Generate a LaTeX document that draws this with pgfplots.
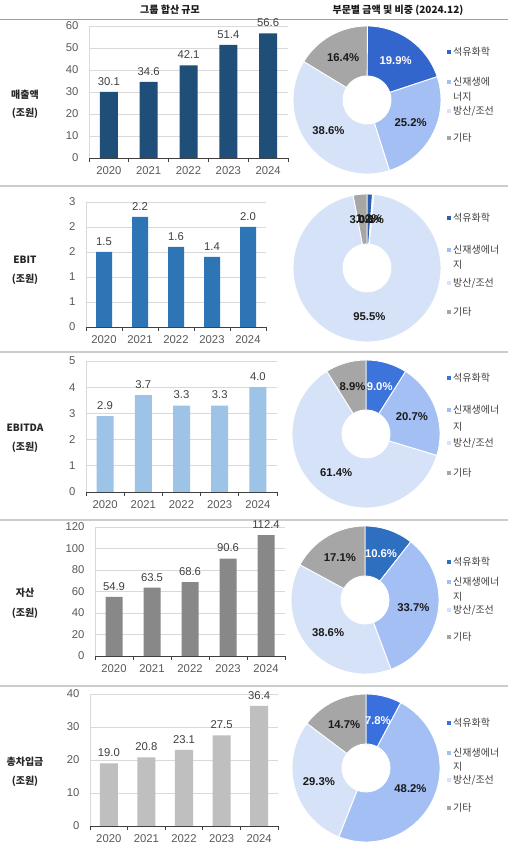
\documentclass[border=0pt]{standalone}
\usepackage{fontspec}
\setmainfont{Liberation Sans}
\newfontfamily\kr{Noto Sans CJK KR}
\usepackage{pgfplots}
\pgfplotsset{compat=1.18}
\definecolor{gridgray}{HTML}{D9D9D9}
\definecolor{txtgray}{HTML}{404040}
\definecolor{tickgray}{HTML}{595959}
\definecolor{barA}{HTML}{1F4E79}
\definecolor{barB}{HTML}{2E75B6}
\definecolor{barC}{HTML}{9DC3E6}
\definecolor{barD}{HTML}{888888}
\definecolor{barE}{HTML}{BFBFBF}
\definecolor{pA1}{HTML}{3366CC}
\definecolor{pA2}{HTML}{2F5FB0}
\definecolor{pA3}{HTML}{3D74DB}
\definecolor{pA4}{HTML}{2E6FBF}
\definecolor{pA5}{HTML}{3A70DE}
\definecolor{pB}{HTML}{A3BFF4}
\definecolor{pC}{HTML}{D6E2F7}
\definecolor{pD}{HTML}{A6A6A6}
\definecolor{pT}{HTML}{1A1A1A}
\newcommand{\numfont}{\fontsize{11.3bp}{13bp}\selectfont}
\newcommand{\krfont}{\kr\fontsize{10bp}{12bp}\selectfont}
\pgfplotsset{
  /pgf/number format/assume math mode=true,
  barax/.style={
    scale only axis, ybar, bar width=17bp, ymin=0,
    xmin=-0.5, xmax=4.5,
    xtick={0,1,2,3,4}, xticklabels={2020,2021,2022,2023,2024},
    minor xtick={-0.5,0.5,1.5,2.5,3.5,4.5},
    major tick length=0pt, minor tick length=4bp, tick align=outside,
    minor x tick style={draw=black!75, line width=0.8bp},
    ymajorgrids, grid style={draw=gridgray, line width=0.7bp},
    axis x line*=bottom, axis y line*=left,
    x axis line style={draw=black!75, line width=0.9bp},
    y axis line style={draw=gridgray, line width=0.7bp},
    tick label style={font=\numfont, text=tickgray},
    xticklabel style={yshift=-5bp},
    yticklabel style={xshift=-7bp},
    nodes near coords={\pgfmathprintnumber[fixed,fixed zerofill,precision=1]{\pgfplotspointmeta}},
    every node near coord/.append style={font=\numfont, text=txtgray, yshift=3bp},
    clip=false,
  }
}
\newcommand{\donut}[3]{%
\begin{axis}[at={(#1bp,#2bp)}, anchor=center, scale only axis, width=148bp, height=148bp,
  hide axis, xmin=-1, xmax=1, ymin=-1, ymax=1, clip=false]
\pgfplotsextra{%
 \begin{scope}[shift={(axis cs:0,0)}]
 \gdef\cum{0}%
 \foreach \v/\c/\t in {#3} {%
   \pgfmathsetmacro\a{90-3.6*\cum}%
   \pgfmathsetmacro\b{90-3.6*(\cum+\v)}%
   \fill[fill=\c, draw=white, line width=0.9bp] (\a:74bp) arc[start angle=\a, end angle=\b, radius=74bp] -- (\b:24bp) arc[start angle=\b, end angle=\a, radius=24bp] -- cycle;
   \pgfmathsetmacro\nc{\cum+\v}%
   \xdef\cum{\nc}%
 }
 \gdef\cum{0}%
 \foreach \v/\c/\t in {#3} {%
   \pgfmathsetmacro\m{90-3.6*(\cum+\v/2)}%
   \node[text=\t, font=\numfont\bfseries, inner sep=0pt] at (\m:49bp) {\v\%};
   \pgfmathsetmacro\nc{\cum+\v}%
   \xdef\cum{\nc}%
 }
 \end{scope}
}
\end{axis}}
\newcommand{\legsq}[3]{%
  \fill[#2] (446.8,#1-2.2) rectangle ++(4.4,4.4);
  \node[anchor=west, font=\krfont, text=txtgray, inner sep=0pt] at (453,#1) {#3};}
\newcommand{\legtx}[2]{%
  \node[anchor=west, font=\krfont, text=txtgray, inner sep=0pt] at (453,#1) {#2};}
\newcommand{\rowlab}[3]{%
  \node[font=\krfont\bfseries, text=black!85] at (25,#1) {#3};
  \node[font=\krfont\bfseries, text=black!85] at (25,#2) {(조원)};}
\begin{document}
\begin{tikzpicture}[x=1bp, y=1bp]
\useasboundingbox (0,0) rectangle (508,845);
\fill[white] (0,0) rectangle (508,845);
% titles and rules
\node[font=\krfont\bfseries, text=black!90] at (170,835) {그룹 합산 규모};
\node[font=\krfont\bfseries, text=black!90] at (398,835) {부문별 금액 및 비중 (2024.12)};
\draw[gray!75, line width=1bp] (0,825) -- (508,825);
\foreach \yy in {659,493,325,159} {\draw[gray!40, line width=1.8bp] (0,\yy) -- (508,\yy);}
% row labels
\rowlab{750}{732}{매출액}
\rowlab{585}{566}{EBIT}
\rowlab{417}{398}{EBITDA}
\rowlab{252}{232}{자산}
\rowlab{83}{64}{총차입금}
% panel 1
\begin{axis}[barax, at={(89bp,687bp)}, anchor=south west, width=199bp, height=132bp, bar width=18bp,
  ymax=60, ytick={0,10,...,60}]
\addplot[fill=barA, draw=none] coordinates {(0,30.1) (1,34.6) (2,42.1) (3,51.4) (4,56.6)};
\end{axis}
% panel 2
\begin{axis}[barax, at={(86bp,518bp)}, anchor=south west, width=180bp, height=125bp, bar width=16bp,
  ymax=2.5, ytick={0,0.5,1,1.5,2,2.5}, yticklabels={0,1,1,2,2,3}]
\addplot[fill=barB, draw=none] coordinates {(0,1.5) (1,2.2) (2,1.6) (3,1.4) (4,2.0)};
\end{axis}
% panel 3
\begin{axis}[barax, at={(86bp,353bp)}, anchor=south west, width=191bp, height=131bp,
  ymax=5, ytick={0,1,...,5}]
\addplot[fill=barC, draw=none] coordinates {(0,2.9) (1,3.7) (2,3.3) (3,3.3) (4,4.0)};
\end{axis}
% panel 4
\begin{axis}[barax, at={(95bp,189bp)}, anchor=south west, width=190bp, height=129bp,
  ymax=120, ytick={0,20,...,120}]
\addplot[fill=barD, draw=none] coordinates {(0,54.9) (1,63.5) (2,68.6) (3,90.6) (4,112.4)};
\end{axis}
% panel 5
\begin{axis}[barax, at={(90bp,19bp)}, anchor=south west, width=188bp, height=132bp, bar width=18bp,
  ymax=40, ytick={0,10,...,40}]
\addplot[fill=barE, draw=none] coordinates {(0,19.0) (1,20.8) (2,23.1) (3,27.5) (4,36.4)};
\end{axis}
% donuts
\donut{367}{745}{19.9/pA1/white, 25.2/pB/pT, 38.6/pC/pT, 16.4/pD/pT}
\donut{367}{577}{1.2/pA2/pT, 0.3/pB/pT, 95.5/pC/pT, 3.0/pD/pT}
\donut{366}{411}{9.0/pA3/white, 20.7/pB/pT, 61.4/pC/pT, 8.9/pD/pT}
\donut{365}{245}{10.6/pA4/white, 33.7/pB/pT, 38.6/pC/pT, 17.1/pD/pT}
\donut{366}{77}{7.8/pA5/white, 48.2/pB/pT, 29.3/pC/pT, 14.7/pD/pT}
% legends
\legsq{793}{pA1}{석유화학}\legsq{763}{pB}{신재생에}\legtx{748}{너지}\legsq{734}{pC}{방산/조선}\legsq{707}{pD}{기타}
\legsq{627}{pA2}{석유화학}\legsq{595}{pB}{신재생에너}\legtx{580}{지}\legsq{562}{pC}{방산/조선}\legsq{533}{pD}{기타}
\legsq{467}{pA3}{석유화학}\legsq{435}{pB}{신재생에너}\legtx{418}{지}\legsq{402}{pC}{방산/조선}\legsq{372}{pD}{기타}
\legsq{283}{pA4}{석유화학}\legsq{263}{pB}{신재생에너}\legtx{248}{지}\legsq{235}{pC}{방산/조선}\legsq{208}{pD}{기타}
\legsq{122}{pA5}{석유화학}\legsq{92}{pB}{신재생에너}\legtx{78}{지}\legsq{65}{pC}{방산/조선}\legsq{37}{pD}{기타}
\end{tikzpicture}
\end{document}
